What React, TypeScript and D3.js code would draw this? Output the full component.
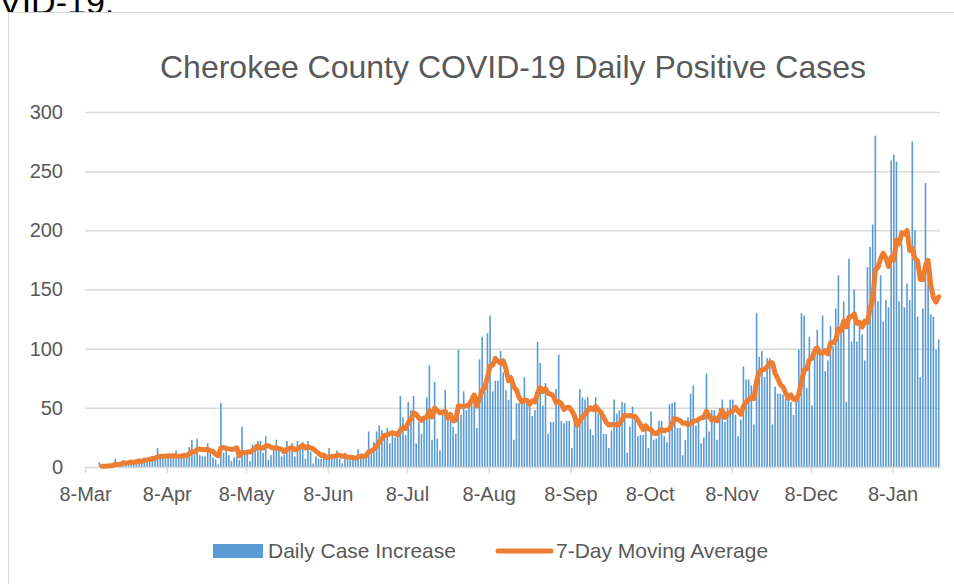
import * as d3 from 'd3';
import React, { useRef, useEffect } from 'react';

// daily positive cases, Mar 8 2020 .. Jan 25 2021 (one array per month)
const mar = [0, 0, 0, 0, 0, 4, 0, 1, 1, 2, 1, 7, 2, 3, 6, 3, 4, 5, 4, 6, 7, 5, 8, 7];
const apr = [8, 9, 7, 16, 8, 9, 7, 10, 8, 9, 14, 7, 8, 12, 10, 17, 23, 10, 24, 10, 9, 9, 20, 13, 8, 6, 2, 54, 12, 15];
const may = [10, 5, 8, 9, 6, 34, 13, 13, 5, 19, 19, 22, 22, 12, 26, 6, 10, 15, 23, 16, 9, 10, 22, 15, 20, 9, 22, 19, 21, 7, 22];
const jun = [13, 3, 9, 7, 7, 10, 7, 16, 7, 8, 14, 7, 3, 12, 6, 7, 7, 9, 15, 9, 11, 8, 30, 13, 21, 30, 35, 31, 27, 33];
const jul = [20, 27, 25, 27, 60, 42, 27, 55, 48, 60, 20, 38, 28, 42, 59, 86, 23, 72, 24, 14, 46, 65, 45, 45, 34, 28, 99, 44, 64, 48, 51];
const aug = [61, 59, 33, 91, 110, 64, 113, 128, 64, 73, 73, 98, 80, 65, 57, 78, 23, 54, 54, 55, 76, 54, 55, 43, 48, 106, 88, 52, 71, 28, 38];
const sep = [38, 66, 95, 39, 37, 39, 39, 16, 38, 39, 66, 59, 57, 59, 32, 27, 59, 45, 45, 28, 28, 16, 31, 57, 45, 48, 55, 54, 12, 34];
const oct = [51, 45, 26, 27, 27, 34, 16, 47, 23, 24, 39, 39, 26, 21, 53, 54, 55, 33, 33, 10, 23, 42, 62, 69, 35, 40, 20, 25, 79, 30, 48];
const nov = [48, 23, 50, 57, 38, 50, 57, 57, 44, 26, 40, 85, 74, 74, 69, 36, 130, 93, 98, 76, 92, 92, 36, 68, 62, 62, 61, 58, 60, 55];
const dec = [44, 57, 99, 130, 128, 67, 110, 52, 102, 116, 99, 128, 81, 90, 119, 102, 134, 162, 117, 140, 55, 176, 106, 150, 106, 123, 112, 90, 169, 186, 205];
const jan = [280, 140, 162, 123, 141, 135, 259, 264, 258, 140, 188, 135, 155, 141, 275, 200, 127, 76, 134, 240, 170, 129, 127, 99, 108];

const dailyCases = [...mar, ...apr, ...may, ...jun, ...jul, ...aug, ...sep, ...oct, ...nov, ...dec, ...jan];

const tickLabels = ['8-Mar', '8-Apr', '8-May', '8-Jun', '8-Jul', '8-Aug', '8-Sep', '8-Oct', '8-Nov', '8-Dec', '8-Jan'];
const yTicks = [0, 50, 100, 150, 200, 250, 300];

const seriesNames = ['Daily Case Increase', '7-Day Moving Average'];
const title = 'Cherokee County COVID-19 Daily Positive Cases';

const startDate = new Date(2020, 2, 8);
const endDate = new Date(2021, 0, 26);

const FONT = '"Liberation Sans", Arial, sans-serif';
const BLUE = '#5B9BD5';
const ORANGE = '#ED7D31';
const TEXT = '#595959';
const GRID = '#D9D9D9';

function CasesChart({ width, height }) {
    const ref = useRef(null);

    useEffect(() => {
        let svg = d3.select(ref.current);
        svg.selectAll('*').remove();
        draw();
    }, []);

    const draw = () => {
        const left = 85, right = 940, top = 112, bottom = 467;
        const svg = d3.select(ref.current);

        const x = d3.scaleTime().domain([startDate, endDate]).range([left, right]);
        const y = d3.scaleLinear().domain([0, 300]).range([bottom, top]);
        const dayW = x(d3.timeDay.offset(startDate, 1)) - x(startDate);

        const data = dailyCases.map((v, i) => ({ date: d3.timeDay.offset(startDate, i), value: v }));
        // trailing 7 day average
        const avg = data.slice(6).map((d, i) => ({
            date: d.date,
            value: d3.mean(dailyCases.slice(i, i + 7))
        }));

        // cropped text of the page above the chart
        svg.append('text')
            .attr('x', -1).attr('y', 14)
            .attr('font-family', FONT).attr('font-size', 34)
            .attr('fill', '#000')
            .text('VID-19.');

        svg.append('rect')
            .attr('x', 8.5).attr('y', 12.5)
            .attr('width', 960).attr('height', 600)
            .attr('fill', '#fff')
            .attr('stroke', GRID);

        svg.append('text')
            .attr('x', 513).attr('y', 78)
            .attr('text-anchor', 'middle')
            .attr('font-family', FONT).attr('font-size', 32)
            .attr('fill', TEXT)
            .text(title);

        // y axis + gridlines
        const yAxis = svg.append('g')
            .attr('transform', `translate(${left},0)`)
            .call(d3.axisLeft(y).tickValues(yTicks).tickSize(-(right - left)).tickPadding(22));
        yAxis.select('.domain').remove();
        yAxis.selectAll('line')
            .attr('stroke', GRID).attr('stroke-width', 1.5)
            .filter(d => d === 0).remove();
        yAxis.selectAll('text')
            .attr('font-family', FONT).attr('font-size', 20).attr('fill', TEXT);

        // bars
        svg.append('g').selectAll('rect')
            .data(data)
            .enter()
            .append('rect')
            .attr('x', d => x(d.date) + dayW / 2 - 0.8)
            .attr('y', d => y(d.value))
            .attr('width', 1.6)
            .attr('height', d => bottom - y(d.value))
            .attr('fill', BLUE);

        // x axis
        const tickDates = tickLabels.map((t, i) => new Date(2020, 2 + i, 8));
        const xAxis = svg.append('g')
            .attr('transform', `translate(0,${bottom})`)
            .call(d3.axisBottom(x).tickValues(tickDates).tickFormat((d, i) => tickLabels[i]).tickSize(6).tickSizeOuter(0).tickPadding(14));
        xAxis.select('.domain').attr('stroke', GRID).attr('stroke-width', 1.5);
        xAxis.selectAll('line').attr('stroke', GRID).attr('stroke-width', 1.5);
        xAxis.selectAll('text')
            .attr('font-family', FONT).attr('font-size', 20).attr('fill', TEXT);

        // moving average line
        const line = d3.line()
            .x(d => x(d.date) + dayW / 2)
            .y(d => y(d.value));
        svg.append('path')
            .datum(avg)
            .attr('d', line)
            .attr('fill', 'none')
            .attr('stroke', ORANGE)
            .attr('stroke-width', 5)
            .attr('stroke-linejoin', 'round')
            .attr('stroke-linecap', 'round');

        // legend
        const lg = svg.append('g').attr('font-family', FONT).attr('font-size', 21).attr('fill', TEXT);
        lg.append('rect').attr('x', 213).attr('y', 544).attr('width', 50).attr('height', 14).attr('fill', BLUE);
        lg.append('text').attr('x', 268).attr('y', 558).text(seriesNames[0]);
        lg.append('line').attr('x1', 498).attr('x2', 551).attr('y1', 551).attr('y2', 551)
            .attr('stroke', ORANGE).attr('stroke-width', 5).attr('stroke-linecap', 'round');
        lg.append('text').attr('x', 556).attr('y', 558).text(seriesNames[1]);
    };

    return (
        <svg ref={ref} width={width} height={height}
            style={{ position: 'absolute', left: 0, top: 0, display: 'block', background: '#fff' }}>
        </svg>
    );
}

export default function App() {
    return <CasesChart width={954} height={584} />;
}
